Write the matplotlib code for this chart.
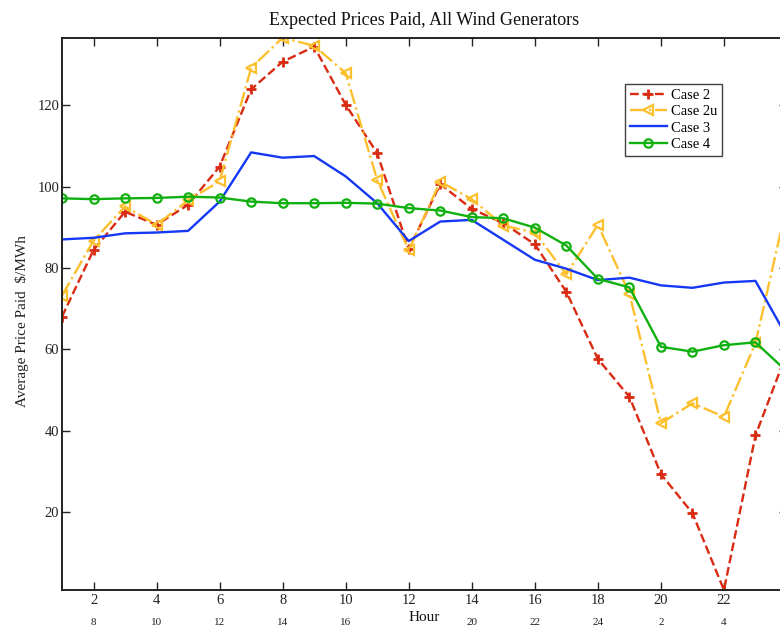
import numpy as np
import matplotlib
matplotlib.use('Agg')
import matplotlib.pyplot as plt

plt.rcParams['font.family'] = ['Liberation Serif', 'DejaVu Serif']

# hour of the study period
hours = np.arange(1, 25)
# clock hour printed under each even tick (the one under "Hour" is left blank)
clock_labels = ['8', '10', '12', '14', '16', '', '20', '22', '24', '2', '4', '']

# average price paid, $/MWh
case2 = [68.0, 84.4, 93.8, 90.6, 95.5, 104.9, 123.9, 130.7, 134.4, 120.1, 108.2, 84.6,
         100.6, 94.5, 91.0, 85.8, 74.1, 57.6, 48.3, 29.3, 19.7, 0.8, 38.8, 59.2]
case2u = [73.2, 86.7, 95.1, 90.6, 96.6, 101.3, 129.2, 136.6, 134.6, 127.9, 101.6, 84.4,
          101.2, 96.9, 90.4, 88.7, 78.4, 90.6, 73.7, 41.8, 46.7, 43.4, 61.5, 95.6]
case3 = [87.0, 87.4, 88.5, 88.7, 89.1, 96.3, 108.4, 107.1, 107.5, 102.5, 95.9, 86.6,
         91.4, 91.8, 86.9, 82.0, 79.8, 77.0, 77.6, 75.7, 75.1, 76.4, 76.8, 63.0]
case4 = [97.1, 96.9, 97.1, 97.2, 97.5, 97.3, 96.3, 95.9, 95.9, 96.0, 95.8, 94.7,
         94.1, 92.5, 92.2, 89.9, 85.5, 77.3, 75.2, 60.6, 59.4, 61.0, 61.7, 54.5]

fig = plt.figure(figsize=(7.8, 6.26), dpi=100)
ax = fig.add_axes([62 / 780, 36 / 626, 725 / 780, 552.3 / 626])

ax.plot(hours, case2, color='#d92a12', ls='--', lw=1.7, marker='+', ms=6.5, mew=2,
        label='Case 2')
ax.plot(hours, case2u, color='#fcc02e', ls='-.', lw=1.7, marker='<', ms=7, mew=1.6,
        mfc='none', label='Case 2u')
ax.plot(hours, case3, color='#1538f5', ls='-', lw=1.7, label='Case 3')
ax.plot(hours, case4, color='#10b010', ls='-', lw=1.7, marker='o', ms=6, mew=1.6,
        mfc='none', label='Case 4')

ax.set_xlim(1, 24)
ax.set_ylim(min(case2), max(case2u))
ax.set_xticks(np.arange(2, 25, 2))
ax.set_yticks([20, 40, 60, 80, 100, 120])
ax.tick_params(direction='in', length=6, width=1, top=True, right=True,
               labelsize=10.5, pad=3, colors='#222222')
ax.tick_params(axis='y', pad=2)
for sp in ax.spines.values():
    sp.set_linewidth(1.4)
    sp.set_color('#222222')

# second row of x labels: clock time
for h, lab in zip(np.arange(2, 25, 2), clock_labels):
    if lab:
        ax.text(h, -0.058, lab, transform=ax.get_xaxis_transform(), ha='center',
                va='center', fontsize=8, color='#222222')

ax.text(0.5, -0.05, 'Hour', transform=ax.transAxes, ha='center', va='center',
        fontsize=11, color='#111111')
fig.text(22 / 780, 1 - 321 / 626, 'Average Price Paid  $/MWh', rotation=90,
         ha='center', va='center', fontsize=11, color='#222222')
ax.text(0.5, 1.031, 'Expected Prices Paid, All Wind Generators', transform=ax.transAxes,
        ha='center', va='center', fontsize=13, color='#111111')

leg = ax.legend(loc='upper left', bbox_to_anchor=((625 - 62) / 725, 1 - (84 - 37.7) / 552.3),
                fontsize=10.5, frameon=True, fancybox=False, edgecolor='#111111',
                borderpad=0.35, labelspacing=0.2, handlelength=2.5, handletextpad=0.3,
                borderaxespad=0)
leg.get_frame().set_linewidth(1.0)

fig.savefig('out.png', dpi=100)
